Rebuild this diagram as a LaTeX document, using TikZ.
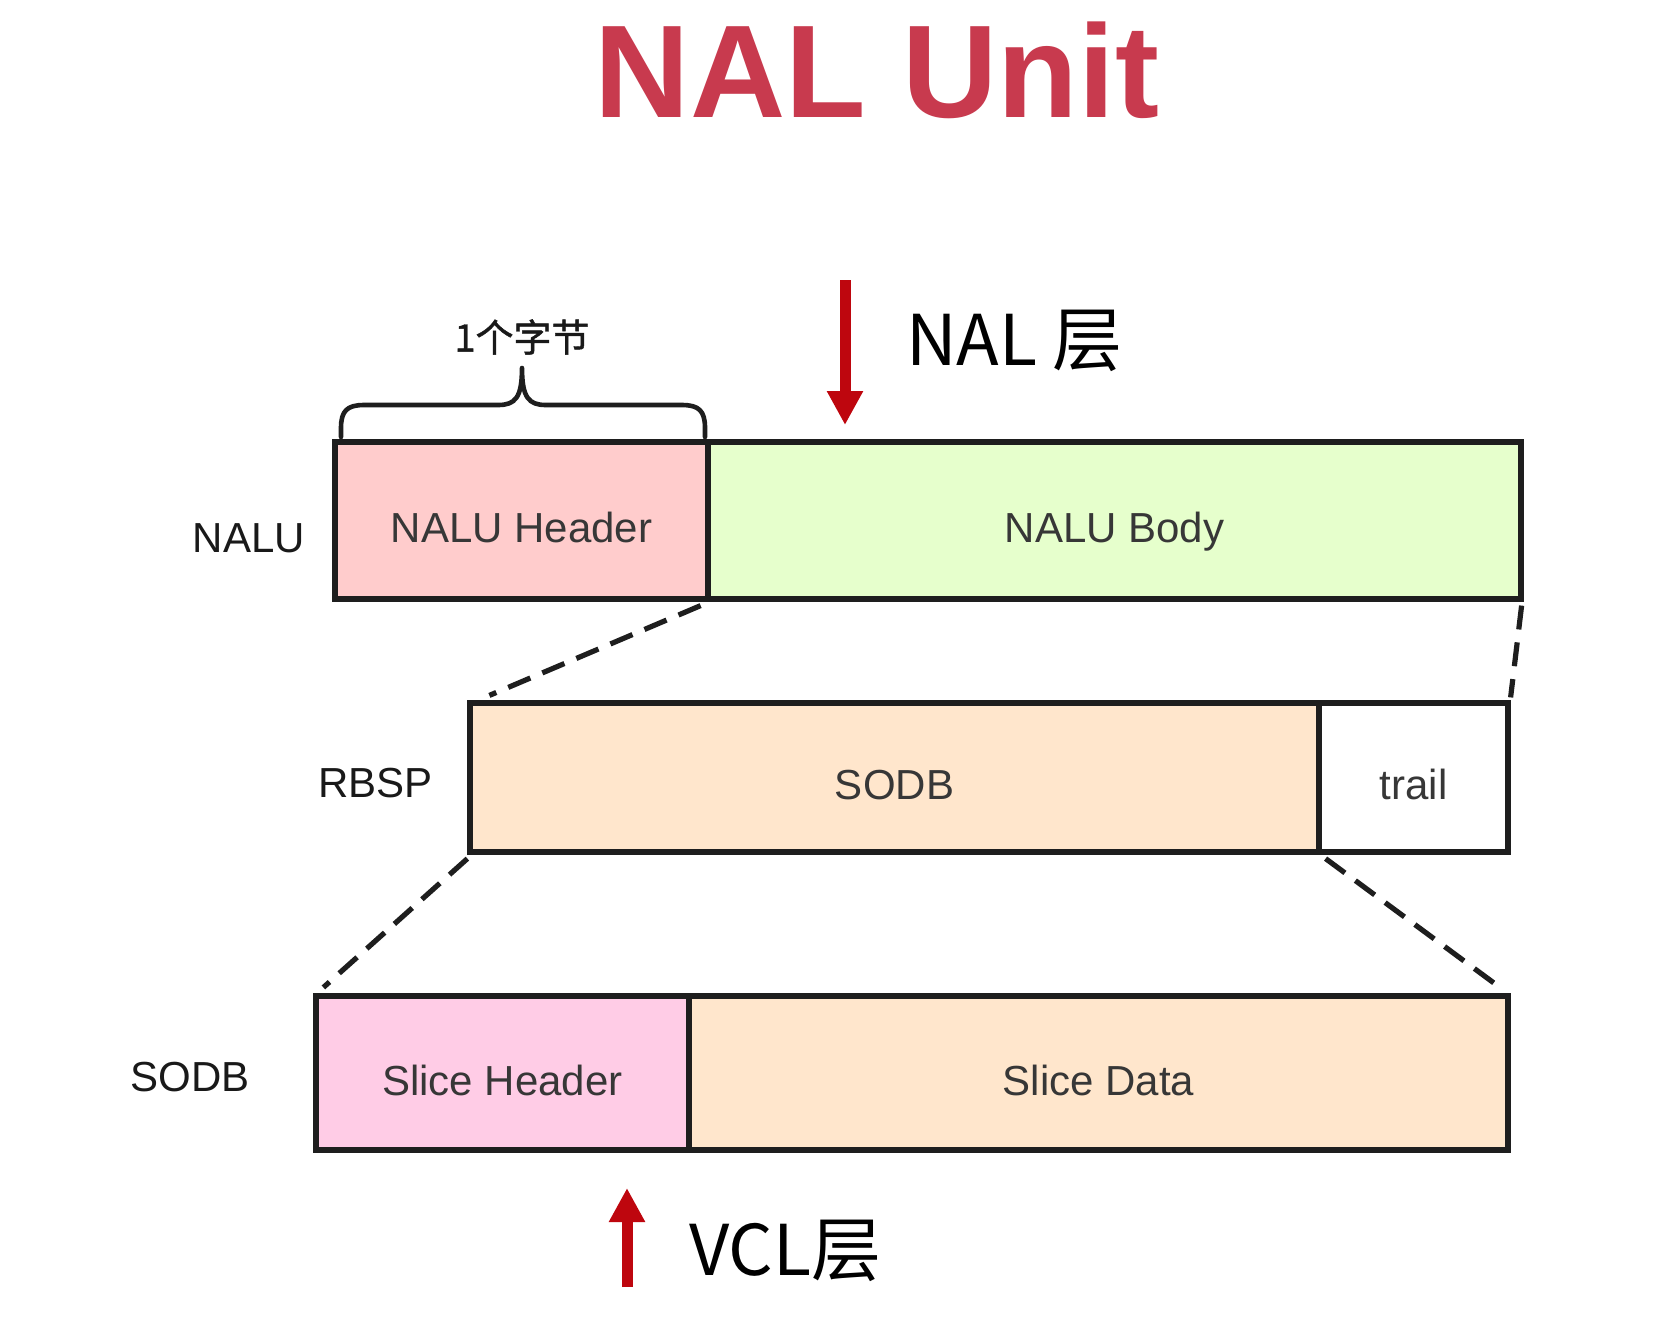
\documentclass[tikz,border=0pt]{standalone}
\usepackage{fontspec}
\setmainfont{Liberation Sans}
\newfontfamily\cjk{Noto Sans CJK SC}
\newfontfamily\cjkb[FakeBold=1.2]{Noto Sans CJK SC}
\usetikzlibrary{arrows.meta,calc}
\definecolor{titlered}{RGB}{200,58,78}
\definecolor{arrowred}{RGB}{190,6,14}
\definecolor{hdrpink}{RGB}{255,204,204}
\definecolor{bodygreen}{RGB}{230,255,204}
\definecolor{peach}{RGB}{255,230,204}
\definecolor{slicepink}{RGB}{255,204,230}
\definecolor{boxtext}{RGB}{55,55,55}
\definecolor{edge}{RGB}{30,30,30}
\begin{document}
\begin{tikzpicture}[x=0.5pt,y=-0.5pt,
 cell/.style={draw=edge, line width=2.6pt, inner sep=0pt, text height=22pt, text depth=0pt, font=\fontsize{21}{25}\selectfont, text=boxtext},
 rowlabel/.style={font=\fontsize{21}{25}\selectfont, text=black!90, anchor=east},
 zoomline/.style={draw=edge, line width=2.6pt, dash pattern=on 12pt off 6.5pt},
 layerarrow/.style={draw=arrowred, line width=5.5pt, -{Triangle[width=17pt,length=17pt]}},
 layerlabel/.style={font=\cjk\fontsize{35}{40}\selectfont, text=black, anchor=west},
 bracelabel/.style={font=\cjkb\fontsize{19}{22}\selectfont, text=black!90}
]
\useasboundingbox (0,0) rectangle (1670,1324);
\fill[white] (0,0) rectangle (1670,1324);

% title
\node[font=\bfseries\fontsize{66}{70}\selectfont, text=titlered, anchor=base] (title) at (877,117) {NAL Unit};

% NALU row
\node[cell, fill=hdrpink, minimum width=186.5pt, minimum height=78.5pt] (hdr) at (521.5,520.5) {NALU Header};
\node[cell, fill=bodygreen, minimum width=406.5pt, minimum height=78.5pt] (body) at (1114.5,520.5) {NALU Body};
\node[rowlabel] (lnalu) at (312,538) {NALU};

% RBSP row
\node[cell, fill=peach, minimum width=424.5pt, minimum height=74.5pt] (sodb) at (894.5,777.5) {SODB};
\node[cell, fill=white, minimum width=94.5pt, minimum height=74.5pt] (trail) at (1413.5,777.5) {trail};
\node[rowlabel] (lrbsp) at (440,783) {RBSP};

% SODB row
\node[cell, fill=slicepink, minimum width=186.5pt, minimum height=77pt] (shdr) at (502.5,1073) {Slice Header};
\node[cell, fill=peach, minimum width=409.5pt, minimum height=77pt] (sdata) at (1098.5,1073) {Slice Data};
\node[rowlabel] (lsodb) at (257,1077) {SODB};

% zoom lines
\draw[zoomline] ($(hdr.south east)+(-10,4)$) -- ($(sodb.north west)+(22,-5)$);
\draw[zoomline] ($(body.south east)+(-2,4)$) -- ($(trail.north east)+(0,-3)$);
\draw[zoomline] ($(sodb.south west)+(0,4)$) -- ($(shdr.north west)+(10,-6)$);
\draw[zoomline] ($(sodb.south east)+(4,4)$) -- ($(sdata.north east)+(-8,-4)$);

% brace
\draw[draw=edge, line width=2.3pt, line cap=round, line join=round]
 (341,437) -- (341,428) .. controls (341,411) and (347,405) .. (364,405) -- (498,405)
 .. controls (515,405) and (522,398) .. (522,368)
 .. controls (522,398) and (529,405) .. (546,405) -- (682,405)
 .. controls (699,405) and (705,411) .. (705,428) -- (705,437);
\node[bracelabel] (bytes) at (522,337) {1个字节};

% NAL layer arrow
\coordinate (nalS) at (845,280);
\coordinate (nalE) at (845,425);
\draw[layerarrow] (nalS) -- (nalE);
\node[layerlabel] (nallbl) at (899,341) {NAL 层};

% VCL layer arrow
\coordinate (vclS) at (627,1287);
\coordinate (vclE) at (627,1188);
\draw[layerarrow] (vclS) -- (vclE);
\node[layerlabel] (vcllbl) at (682,1251) {VCL层};
\end{tikzpicture}
\end{document}
